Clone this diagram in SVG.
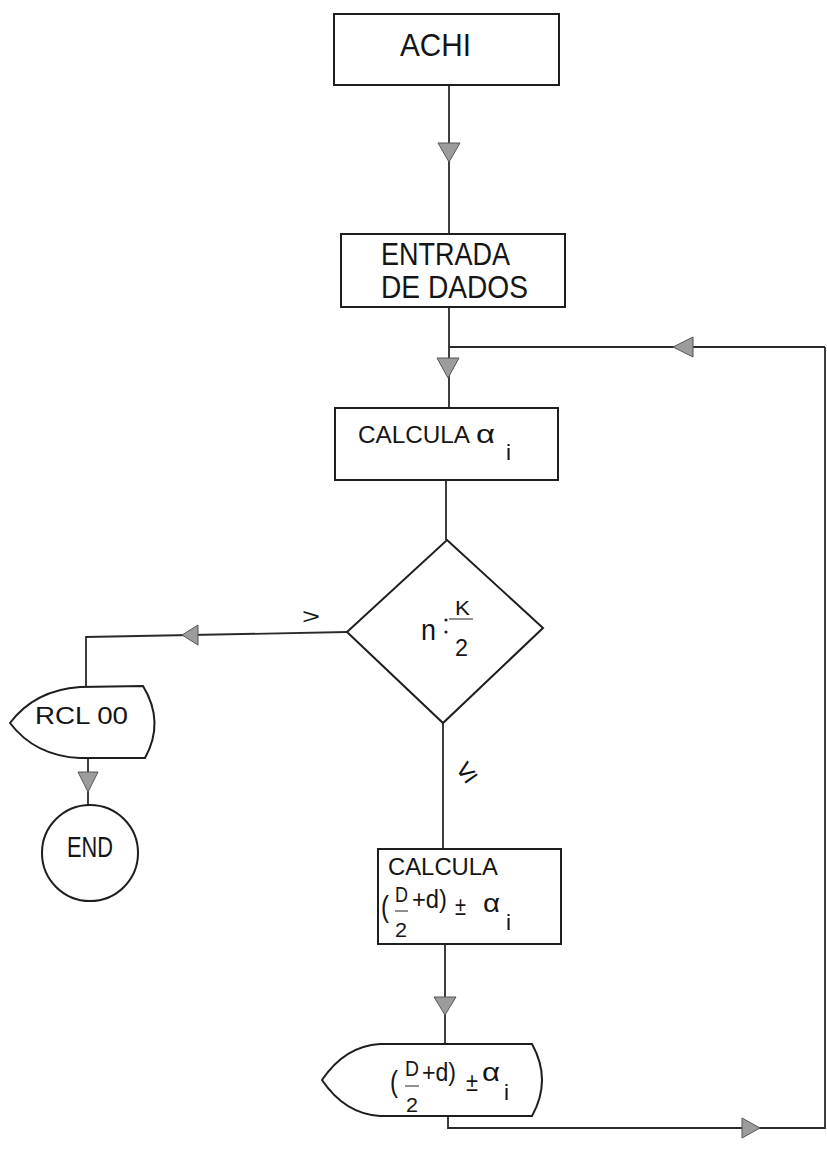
<svg xmlns="http://www.w3.org/2000/svg" width="827" height="1149" viewBox="0 0 827 1149">
<style>
.ln{stroke:#2a2a2a;stroke-width:1.8;fill:none}
.box{fill:#fff;stroke:#1e1e1e;stroke-width:2}
.ah{fill:#9c9c9c;stroke:#555;stroke-width:1}
.t{font-family:"Liberation Sans",Arial,sans-serif;fill:#151515}
</style>
<rect width="827" height="1149" fill="#fff"/>
<g id="connectors">
<polyline class="ln" points="449,85 449,234"/>
<polyline class="ln" points="449,307 449,408"/>
<polyline class="ln" points="449,347 825,347"/>
<polyline class="ln" points="446,480 446,540"/>
<polyline class="ln" points="347,632 86,637 86,687"/>
<polyline class="ln" points="88,758 88,805"/>
<polyline class="ln" points="443,723 443,849"/>
<polyline class="ln" points="445,944 445,1044"/>
<polyline class="ln" points="448,1116 448,1128 825,1128 825,347"/>
<polygon class="ah" points="438,143 460,143 449,162"/>
<polygon class="ah" points="437,358 459,358 448,378"/>
<polygon class="ah" points="693,337 693,357 673,347"/>
<polygon class="ah" points="198,625 198,645 182,635"/>
<polygon class="ah" points="78,772 98,772 88,792"/>
<polygon class="ah" points="434,997 456,997 445,1015"/>
<polygon class="ah" points="742,1118 742,1138 760,1128"/>
<text class="t" x="302" y="624" font-size="22" textLength="18" lengthAdjust="spacingAndGlyphs" fill="#555">&gt;</text>
<text class="t" x="466" y="781" font-size="30" text-anchor="middle" fill="#555" transform="rotate(-35 466 771)">≤</text>
</g>
<g id="achi">
<rect class="box" x="334" y="14" width="225" height="71"/>
<text class="t" x="400" y="56" font-size="32" textLength="71" lengthAdjust="spacingAndGlyphs">ACHI</text>
</g>
<g id="entrada">
<rect class="box" x="341" y="234" width="224" height="73"/>
<text class="t" x="381" y="265" font-size="32" textLength="129" lengthAdjust="spacingAndGlyphs">ENTRADA</text>
<text class="t" x="381" y="298" font-size="32" textLength="147" lengthAdjust="spacingAndGlyphs">DE DADOS</text>
</g>
<g id="calcula1">
<rect class="box" x="335" y="408" width="223" height="72"/>
<text class="t" x="358" y="443" font-size="24" textLength="112" lengthAdjust="spacingAndGlyphs">CALCULA</text>
<text class="t" x="476" y="443" font-size="26" textLength="19" lengthAdjust="spacingAndGlyphs">α</text>
<text class="t" x="506" y="460" font-size="22" textLength="5" lengthAdjust="spacingAndGlyphs">i</text>
</g>
<g id="decision">
<polygon class="box" points="447,540 543,628 443,723 347,632" stroke="#333"/>
<text class="t" x="421" y="640" font-size="30" textLength="15" lengthAdjust="spacingAndGlyphs">n</text>
<text class="t" x="455" y="615" font-size="20" textLength="15" lengthAdjust="spacingAndGlyphs">K</text>
<text class="t" x="455" y="656" font-size="24" textLength="13" lengthAdjust="spacingAndGlyphs">2</text>
<circle cx="446" cy="620" r="1.6" fill="#222"/>
<circle cx="446" cy="632" r="1.6" fill="#222"/>
<line x1="449" y1="619" x2="473" y2="619" stroke="#444" stroke-width="1.2"/>
</g>
<g id="rcl">
<path class="box" d="M10,723 Q35,690 80,687 L143,686 Q165,722 145,758 L80,758 Q35,756 10,723 Z"/>
<text class="t" x="35" y="724" font-size="24" textLength="93" lengthAdjust="spacingAndGlyphs">RCL 00</text>
</g>
<g id="end">
<circle class="box" cx="90" cy="853" r="48"/>
<text class="t" x="67" y="857" font-size="29" textLength="46" lengthAdjust="spacingAndGlyphs">END</text>
</g>
<g id="calcula2">
<rect class="box" x="378" y="849" width="183" height="95"/>
<text class="t" x="388" y="875" font-size="24" textLength="110" lengthAdjust="spacingAndGlyphs">CALCULA</text>
<text class="t" x="381" y="917" font-size="30" textLength="8" lengthAdjust="spacingAndGlyphs">(</text>
<text class="t" x="395" y="902" font-size="22" textLength="13" lengthAdjust="spacingAndGlyphs">D</text>
<text class="t" x="395" y="937" font-size="21" textLength="12" lengthAdjust="spacingAndGlyphs">2</text>
<text class="t" x="412" y="908" font-size="26" textLength="35" lengthAdjust="spacingAndGlyphs">+d)</text>
<text class="t" x="455" y="915" font-size="26" textLength="11" lengthAdjust="spacingAndGlyphs">±</text>
<text class="t" x="483" y="912" font-size="26" textLength="17" lengthAdjust="spacingAndGlyphs">α</text>
<text class="t" x="506" y="930" font-size="22" textLength="5" lengthAdjust="spacingAndGlyphs">i</text>
<line x1="395" y1="911" x2="408" y2="911" stroke="#444" stroke-width="1.2"/>
</g>
<g id="output">
<path class="box" d="M322,1080 Q345,1046 380,1044 L532,1044 Q552,1080 532,1116 L380,1116 Q345,1114 322,1080 Z"/>
<text class="t" x="390" y="1092" font-size="30" textLength="8" lengthAdjust="spacingAndGlyphs">(</text>
<text class="t" x="405" y="1076" font-size="22" textLength="14" lengthAdjust="spacingAndGlyphs">D</text>
<text class="t" x="406" y="1112" font-size="21" textLength="12" lengthAdjust="spacingAndGlyphs">2</text>
<text class="t" x="422" y="1081" font-size="26" textLength="34" lengthAdjust="spacingAndGlyphs">+d)</text>
<text class="t" x="466" y="1091" font-size="25" textLength="12" lengthAdjust="spacingAndGlyphs">±</text>
<text class="t" x="482" y="1081" font-size="26" textLength="18" lengthAdjust="spacingAndGlyphs">α</text>
<text class="t" x="504" y="1100" font-size="22" textLength="5" lengthAdjust="spacingAndGlyphs">i</text>
<line x1="405" y1="1086" x2="419" y2="1086" stroke="#444" stroke-width="1.2"/>
</g>
</svg>
